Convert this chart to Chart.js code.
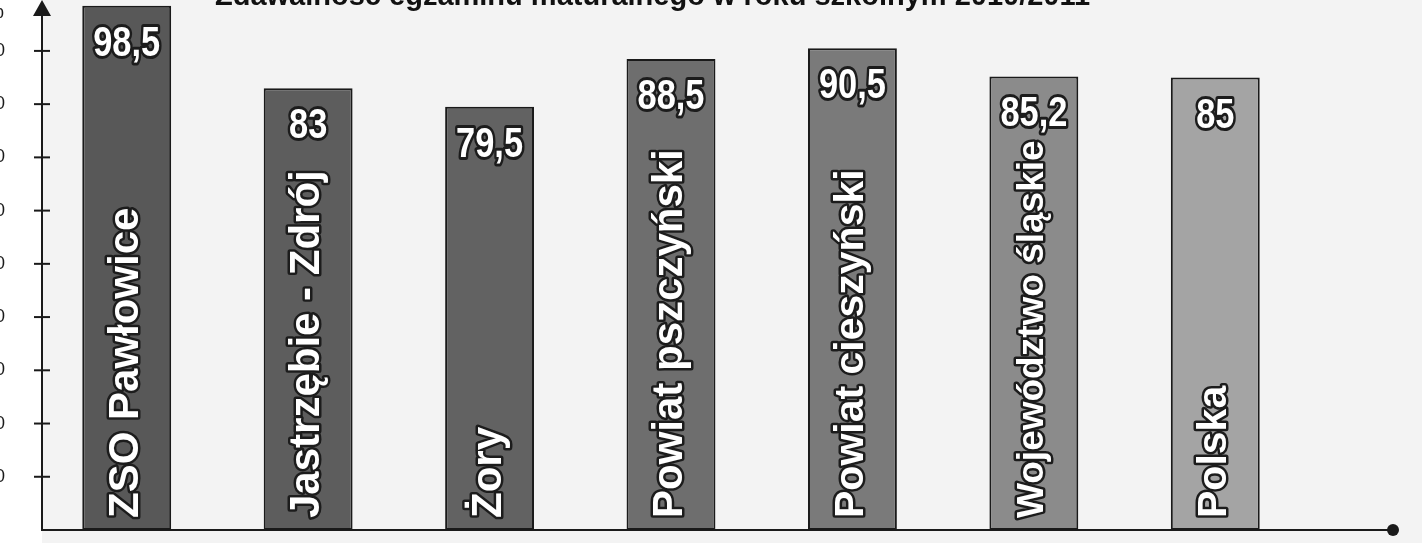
<!DOCTYPE html>
<html><head><meta charset="utf-8">
<script src="https://cdn.jsdelivr.net/npm/chart.js@4"></script>
<style>html,body{margin:0;padding:0;background:#f3f3f3;overflow:hidden}
#wrap{position:relative;width:1422px;height:543px}</style></head>
<body><div id="wrap"><canvas id="c" width="1422" height="543"></canvas></div>
<script>
const categories = ['ZSO Pawłowice','Jastrzębie - Zdrój','Żory','Powiat pszczyński','Powiat cieszyński','Województwo śląskie','Polska'];
const values = [98.5, 83, 79.5, 88.5, 90.5, 85.2, 85];
const valueLabels = ['98,5','83','79,5','88,5','90,5','85,2','85'];
const barColors = ['#585858','#5d5d5d','#626262','#6e6e6e','#7a7a7a','#8b8b8b','#a4a4a4'];
const yTicks = [10, 20, 30, 40, 50, 60, 70, 80, 90];
const titleText = 'Zdawalność egzaminu maturalnego w roku szkolnym 2010/2011';
const unitLabel = '%';
// style only (not data): font size of each vertical category label
const labelFontPx = [42, 42, 42, 42, 41, 37, 41];

const drawPlugin = {
  id: 'drawPlugin',
  beforeDraw(chart) {
    const ctx = chart.ctx, ca = chart.chartArea;
    ctx.save();
    ctx.fillStyle = '#f3f3f3';
    ctx.fillRect(0, 0, chart.width, chart.height);
    ctx.fillStyle = '#ffffff';
    ctx.fillRect(0, 0, ca.left + 6, chart.height);
    ctx.restore();
  },
  afterDatasetsDraw(chart) {
    const ctx = chart.ctx;
    const meta = chart.getDatasetMeta(0);
    const base = chart.scales.y.getPixelForValue(0);
    ctx.save();
    ctx.lineJoin = 'round';
    meta.data.forEach((bar, i) => {
      const cx = bar.x;
      // value label (condensed bold)
      ctx.save();
      ctx.translate(cx, bar.y + 50);
      ctx.scale(0.8, 1);
      ctx.font = 'bold 43px "Liberation Sans", Arial, sans-serif';
      ctx.textAlign = 'center';
      ctx.textBaseline = 'alphabetic';
      ctx.lineWidth = 6;
      ctx.strokeStyle = '#1c1c1c';
      ctx.strokeText(valueLabels[i], 0, 0);
      ctx.fillStyle = '#ffffff';
      ctx.fillText(valueLabels[i], 0, 0);
      ctx.restore();
      // category label (vertical)
      ctx.save();
      ctx.translate(cx, base - 12);
      ctx.rotate(-Math.PI / 2);
      const fs = labelFontPx[i];
      ctx.font = 'bold ' + fs + 'px "Liberation Sans", Arial, sans-serif';
      ctx.textAlign = 'left';
      ctx.textBaseline = 'alphabetic';
      ctx.lineWidth = 5;
      ctx.strokeStyle = '#1c1c1c';
      const b = fs * 0.358 - 4;
      ctx.strokeText(categories[i], 0, b);
      ctx.fillStyle = '#ffffff';
      ctx.fillText(categories[i], 0, b);
      ctx.restore();
    });
    ctx.restore();
  },
  afterDraw(chart) {
    const ctx = chart.ctx, ca = chart.chartArea;
    const ys = chart.scales.y;
    const axisX = ca.left + 6;
    const base = ys.getPixelForValue(0);
    ctx.save();
    ctx.strokeStyle = '#1a1a1a';
    ctx.fillStyle = '#1a1a1a';
    ctx.lineWidth = 2;
    // y axis
    ctx.beginPath();
    ctx.moveTo(axisX, base + 1);
    ctx.lineTo(axisX, 10);
    ctx.stroke();
    // arrow
    ctx.beginPath();
    ctx.moveTo(axisX, 0);
    ctx.lineTo(axisX - 9, 16);
    ctx.lineTo(axisX + 9, 16);
    ctx.closePath();
    ctx.fill();
    // x axis
    ctx.beginPath();
    ctx.moveTo(axisX - 1, base);
    ctx.lineTo(ca.right + 86, base);
    ctx.stroke();
    ctx.beginPath();
    ctx.arc(ca.right + 87, base, 6, 0, Math.PI * 2);
    ctx.fill();
    // ticks & labels
    ctx.font = '18px "Liberation Sans", Arial, sans-serif';
    ctx.textAlign = 'right';
    ctx.textBaseline = 'middle';
    yTicks.forEach(v => {
      const y = ys.getPixelForValue(v);
      ctx.beginPath();
      ctx.moveTo(axisX - 8, y);
      ctx.lineTo(axisX + 8, y);
      ctx.stroke();
      ctx.fillText(String(v), 5, y);
    });
    // unit label
    ctx.font = '22px "Liberation Sans", Arial, sans-serif';
    ctx.textBaseline = 'alphabetic';
    ctx.fillText(unitLabel, 4, 18);
    // title (partly cut off at top)
    ctx.font = 'bold 29px "Liberation Sans", Arial, sans-serif';
    ctx.textAlign = 'left';
    ctx.fillStyle = '#111111';
    ctx.fillText(titleText, 215, 5);
    ctx.restore();
  }
};

new Chart(document.getElementById('c'), {
  type: 'bar',
  data: {
    labels: categories,
    datasets: [{
      data: values,
      backgroundColor: barColors,
      borderColor: '#1a1a1a',
      borderWidth: 2,
      borderSkipped: false,
      barPercentage: 0.49,
      categoryPercentage: 1
    }]
  },
  options: {
    responsive: false,
    animation: false,
    layout: { padding: { left: 36, right: 116, top: 3, bottom: 13 } },
    plugins: { legend: { display: false }, tooltip: { enabled: false }, title: { display: false } },
    scales: {
      x: { display: false },
      y: { display: false, min: 0, max: 99 }
    }
  },
  plugins: [drawPlugin]
});
</script>
</body></html>
